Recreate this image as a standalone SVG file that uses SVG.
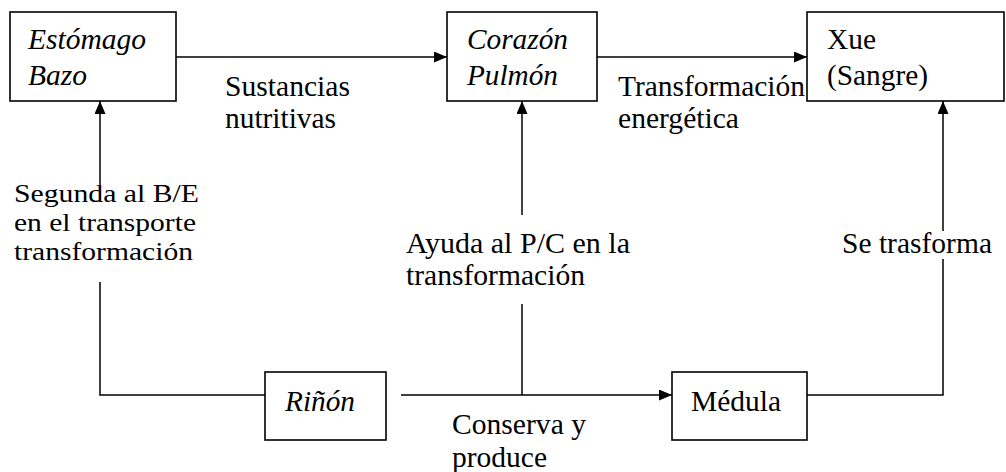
<svg xmlns="http://www.w3.org/2000/svg" width="1006" height="472" viewBox="0 0 1006 472">
<style>
.box{fill:#fff;stroke:#000;stroke-width:1.6}
.ln{fill:none;stroke:#000;stroke-width:1.5}
text{font-family:'Liberation Serif','Times New Roman','DejaVu Serif',serif;font-size:29px;fill:#000}
.it{font-style:italic}
.sm{font-size:25px}
</style>
<defs>
<marker id="ah" viewBox="0 0 13 11" refX="13" refY="5.5" markerWidth="13" markerHeight="11" markerUnits="userSpaceOnUse" orient="auto">
<path d="M0,0 L13,5.5 L0,11 Z" fill="#000"/>
</marker>
</defs>
<rect width="1006" height="472" fill="#fff"/>
<g id="connectors">
<path class="ln" d="M176,57 H447" marker-end="url(#ah)"/>
<path class="ln" d="M597,57 H807" marker-end="url(#ah)"/>
<path class="ln" d="M265,395 H100 V282"/>
<path class="ln" d="M100,185 V101" marker-end="url(#ah)"/>
<path class="ln" d="M401,395 H672" marker-end="url(#ah)"/>
<path class="ln" d="M522,395 V304"/>
<path class="ln" d="M522,215 V101" marker-end="url(#ah)"/>
<path class="ln" d="M807,395 H943 V259"/>
<path class="ln" d="M943,231 V101" marker-end="url(#ah)"/>
</g>
<g id="estomago">
<rect class="box" x="10" y="12" width="166" height="89"/>
<text class="it" x="28" y="49" textLength="118" lengthAdjust="spacingAndGlyphs">Estómago</text>
<text class="it" x="28" y="85" textLength="59" lengthAdjust="spacingAndGlyphs">Bazo</text>
</g>
<g id="corazon">
<rect class="box" x="447" y="12" width="150" height="89"/>
<text class="it" x="467" y="49" textLength="101" lengthAdjust="spacingAndGlyphs">Corazón</text>
<text class="it" x="467" y="85" textLength="91" lengthAdjust="spacingAndGlyphs">Pulmón</text>
</g>
<g id="xue">
<rect class="box" x="807" y="12" width="197" height="89"/>
<text x="827" y="49" textLength="49" lengthAdjust="spacingAndGlyphs">Xue</text>
<text x="827" y="85" textLength="101" lengthAdjust="spacingAndGlyphs">(Sangre)</text>
</g>
<g id="rinon">
<rect class="box" x="265" y="372" width="121" height="68"/>
<text class="it" x="285" y="411" textLength="70" lengthAdjust="spacingAndGlyphs">Riñón</text>
</g>
<g id="medula">
<rect class="box" x="672" y="372" width="135" height="68"/>
<text x="691" y="411" textLength="90" lengthAdjust="spacingAndGlyphs">Médula</text>
</g>
<g id="labels">
<text x="225" y="96" textLength="125" lengthAdjust="spacingAndGlyphs">Sustancias</text>
<text x="225" y="128" textLength="111" lengthAdjust="spacingAndGlyphs">nutritivas</text>
<text x="618" y="96" textLength="187" lengthAdjust="spacingAndGlyphs">Transformación</text>
<text x="618" y="128" textLength="121" lengthAdjust="spacingAndGlyphs">energética</text>
<text class="sm" x="14" y="202" textLength="185" lengthAdjust="spacingAndGlyphs">Segunda al B/E</text>
<text class="sm" x="14" y="231" textLength="182" lengthAdjust="spacingAndGlyphs">en el transporte</text>
<text class="sm" x="14" y="260" textLength="179" lengthAdjust="spacingAndGlyphs">transformación</text>
<text x="406" y="253" textLength="224" lengthAdjust="spacingAndGlyphs">Ayuda al P/C en la</text>
<text x="406" y="285" textLength="179" lengthAdjust="spacingAndGlyphs">transformación</text>
<text x="842" y="253" textLength="150" lengthAdjust="spacingAndGlyphs">Se trasforma</text>
<text x="452" y="434" textLength="134" lengthAdjust="spacingAndGlyphs">Conserva y</text>
<text x="452" y="467" textLength="95" lengthAdjust="spacingAndGlyphs">produce</text>
</g>
</svg>
